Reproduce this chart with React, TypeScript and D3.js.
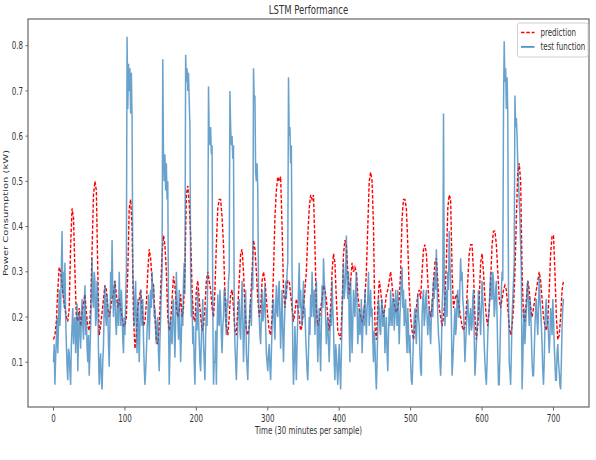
import { scaleLinear, line, range, extent } from 'd3';

// sample index (30 minutes per sample)
const testIndex = range(0, 715);
const predIndex = range(0, 715, 2);

// measured load, one value per sample, rows of 20 samples
const testFunction = [
  0.10, 0.14, 0.05, 0.11, 0.15, 0.20, 0.12, 0.18, 0.26, 0.18, 0.22, 0.31, 0.39, 0.25, 0.30, 0.22, 0.32, 0.20, 0.14, 0.09,
  0.06, 0.13, 0.12, 0.08, 0.05, 0.14, 0.18, 0.22, 0.14, 0.19, 0.20, 0.12, 0.17, 0.23, 0.08, 0.15, 0.21, 0.17, 0.13, 0.20,
  0.24, 0.18, 0.15, 0.22, 0.27, 0.16, 0.20, 0.13, 0.10, 0.16, 0.07, 0.12, 0.18, 0.25, 0.33, 0.24, 0.22, 0.30, 0.28, 0.18,
  0.20, 0.28, 0.25, 0.12, 0.05, 0.10, 0.12, 0.06, 0.04, 0.10, 0.14, 0.22, 0.27, 0.20, 0.18, 0.25, 0.22, 0.14, 0.09, 0.18,
  0.30, 0.24, 0.37, 0.26, 0.20, 0.26, 0.28, 0.19, 0.16, 0.21, 0.24, 0.18, 0.30, 0.23, 0.18, 0.26, 0.22, 0.15, 0.12, 0.20,
  0.16, 0.24, 0.30, 0.82, 0.66, 0.76, 0.70, 0.75, 0.65, 0.74, 0.64, 0.30, 0.26, 0.18, 0.22, 0.28, 0.17, 0.12, 0.24, 0.18,
  0.10, 0.18, 0.26, 0.20, 0.18, 0.24, 0.15, 0.09, 0.05, 0.08, 0.12, 0.17, 0.20, 0.25, 0.15, 0.21, 0.26, 0.22, 0.30, 0.24,
  0.27, 0.20, 0.22, 0.17, 0.14, 0.19, 0.20, 0.12, 0.08, 0.15, 0.20, 0.26, 0.30, 0.77, 0.55, 0.50, 0.56, 0.48, 0.54, 0.46,
  0.50, 0.20, 0.05, 0.12, 0.20, 0.15, 0.14, 0.22, 0.24, 0.17, 0.11, 0.19, 0.30, 0.24, 0.20, 0.15, 0.26, 0.18, 0.10, 0.16,
  0.22, 0.18, 0.28, 0.32, 0.25, 0.78, 0.72, 0.75, 0.70, 0.74, 0.68, 0.62, 0.30, 0.20, 0.24, 0.14, 0.18, 0.10, 0.05, 0.14,
  0.22, 0.17, 0.26, 0.20, 0.15, 0.10, 0.08, 0.15, 0.20, 0.24, 0.14, 0.10, 0.06, 0.16, 0.22, 0.18, 0.30, 0.71, 0.60, 0.58,
  0.62, 0.56, 0.58, 0.22, 0.05, 0.10, 0.10, 0.17, 0.05, 0.16, 0.25, 0.19, 0.18, 0.26, 0.23, 0.16, 0.12, 0.18, 0.20, 0.26,
  0.26, 0.19, 0.16, 0.24, 0.22, 0.28, 0.30, 0.70, 0.62, 0.58, 0.60, 0.55, 0.58, 0.22, 0.14, 0.10, 0.06, 0.12, 0.18, 0.22,
  0.24, 0.17, 0.15, 0.22, 0.28, 0.20, 0.10, 0.16, 0.22, 0.26, 0.12, 0.09, 0.06, 0.13, 0.18, 0.22, 0.24, 0.18, 0.30, 0.26,
  0.75, 0.68, 0.69, 0.52, 0.50, 0.54, 0.48, 0.26, 0.20, 0.16, 0.14, 0.20, 0.26, 0.19, 0.20, 0.24, 0.27, 0.18, 0.12, 0.10,
  0.08, 0.12, 0.14, 0.09, 0.06, 0.12, 0.18, 0.22, 0.24, 0.18, 0.15, 0.22, 0.27, 0.21, 0.20, 0.26, 0.28, 0.20, 0.13, 0.20,
  0.26, 0.16, 0.10, 0.17, 0.22, 0.28, 0.24, 0.30, 0.32, 0.73, 0.60, 0.62, 0.54, 0.58, 0.30, 0.12, 0.05, 0.10, 0.18, 0.12,
  0.06, 0.14, 0.20, 0.26, 0.32, 0.22, 0.26, 0.20, 0.18, 0.24, 0.28, 0.20, 0.22, 0.16, 0.12, 0.08, 0.06, 0.12, 0.20, 0.16,
  0.25, 0.20, 0.30, 0.24, 0.20, 0.26, 0.16, 0.22, 0.28, 0.18, 0.10, 0.16, 0.22, 0.14, 0.08, 0.18, 0.27, 0.22, 0.33, 0.28,
  0.26, 0.20, 0.14, 0.18, 0.20, 0.14, 0.10, 0.16, 0.22, 0.18, 0.28, 0.22, 0.18, 0.10, 0.06, 0.14, 0.12, 0.08, 0.05, 0.10,
  0.14, 0.08, 0.04, 0.12, 0.20, 0.26, 0.32, 0.24, 0.26, 0.30, 0.38, 0.28, 0.24, 0.30, 0.18, 0.10, 0.28, 0.20, 0.12, 0.18,
  0.26, 0.22, 0.20, 0.26, 0.30, 0.22, 0.14, 0.18, 0.22, 0.16, 0.18, 0.24, 0.12, 0.17, 0.22, 0.18, 0.26, 0.20, 0.16, 0.22,
  0.24, 0.30, 0.18, 0.22, 0.26, 0.20, 0.22, 0.15, 0.10, 0.17, 0.14, 0.08, 0.04, 0.10, 0.18, 0.24, 0.22, 0.17, 0.16, 0.22,
  0.24, 0.18, 0.18, 0.22, 0.12, 0.16, 0.20, 0.12, 0.08, 0.16, 0.22, 0.18, 0.26, 0.20, 0.18, 0.24, 0.24, 0.17, 0.20, 0.26,
  0.22, 0.18, 0.26, 0.20, 0.14, 0.20, 0.24, 0.28, 0.31, 0.22, 0.26, 0.18, 0.20, 0.24, 0.16, 0.12, 0.22, 0.17, 0.12, 0.16,
  0.10, 0.06, 0.05, 0.10, 0.16, 0.20, 0.22, 0.17, 0.14, 0.20, 0.25, 0.20, 0.18, 0.12, 0.08, 0.07, 0.20, 0.24, 0.26, 0.18,
  0.20, 0.24, 0.26, 0.20, 0.16, 0.20, 0.22, 0.17, 0.14, 0.20, 0.24, 0.20, 0.28, 0.24, 0.30, 0.26, 0.35, 0.28, 0.20, 0.16,
  0.14, 0.10, 0.07, 0.12, 0.22, 0.26, 0.65, 0.30, 0.18, 0.22, 0.26, 0.20, 0.30, 0.26, 0.39, 0.32, 0.28, 0.20, 0.07, 0.10,
  0.14, 0.18, 0.22, 0.16, 0.18, 0.24, 0.26, 0.20, 0.20, 0.27, 0.33, 0.28, 0.30, 0.24, 0.22, 0.16, 0.10, 0.14, 0.18, 0.22,
  0.24, 0.20, 0.16, 0.20, 0.22, 0.17, 0.18, 0.24, 0.26, 0.16, 0.07, 0.10, 0.14, 0.18, 0.20, 0.26, 0.24, 0.20, 0.16, 0.22,
  0.28, 0.24, 0.20, 0.14, 0.10, 0.07, 0.05, 0.10, 0.16, 0.20, 0.22, 0.26, 0.30, 0.24, 0.24, 0.30, 0.28, 0.20, 0.22, 0.26,
  0.28, 0.20, 0.12, 0.05, 0.05, 0.12, 0.20, 0.26, 0.30, 0.28, 0.66, 0.81, 0.72, 0.75, 0.66, 0.73, 0.65, 0.26, 0.10, 0.08,
  0.05, 0.12, 0.20, 0.24, 0.28, 0.32, 0.69, 0.62, 0.64, 0.60, 0.54, 0.50, 0.46, 0.42, 0.36, 0.30, 0.04, 0.10, 0.18, 0.22,
  0.14, 0.18, 0.22, 0.26, 0.28, 0.22, 0.18, 0.24, 0.22, 0.16, 0.10, 0.07, 0.07, 0.12, 0.18, 0.22, 0.24, 0.19, 0.16, 0.22,
  0.29, 0.24, 0.22, 0.18, 0.14, 0.08, 0.05, 0.10, 0.18, 0.22, 0.24, 0.18, 0.20, 0.16, 0.12, 0.16, 0.22, 0.20, 0.16, 0.24,
  0.20, 0.14, 0.10, 0.06, 0.06, 0.12, 0.14, 0.10, 0.08, 0.05, 0.04, 0.10, 0.18, 0.22, 0.24,
];

// model output, every second sample
const prediction = [
  0.15, 0.16, 0.19, 0.26, 0.31, 0.30, 0.27, 0.24, 0.22, 0.20,
  0.19, 0.22, 0.36, 0.44, 0.42, 0.30, 0.20, 0.19, 0.22, 0.18,
  0.21, 0.23, 0.25, 0.21, 0.18, 0.17, 0.22, 0.35, 0.47, 0.50,
  0.48, 0.30, 0.16, 0.18, 0.21, 0.24, 0.27, 0.26, 0.22, 0.20,
  0.22, 0.24, 0.25, 0.28, 0.25, 0.22, 0.24, 0.22, 0.20, 0.18,
  0.18, 0.20, 0.30, 0.44, 0.46, 0.40, 0.20, 0.13, 0.16, 0.22,
  0.24, 0.26, 0.22, 0.18, 0.19, 0.23, 0.30, 0.35, 0.33, 0.28,
  0.27, 0.20, 0.15, 0.14, 0.18, 0.26, 0.34, 0.38, 0.36, 0.30,
  0.20, 0.17, 0.19, 0.24, 0.29, 0.27, 0.22, 0.20, 0.21, 0.25,
  0.20, 0.22, 0.30, 0.47, 0.49, 0.45, 0.38, 0.26, 0.20, 0.19,
  0.26, 0.28, 0.24, 0.20, 0.17, 0.18, 0.22, 0.28, 0.30, 0.28,
  0.26, 0.22, 0.20, 0.26, 0.36, 0.44, 0.46, 0.46, 0.42, 0.36,
  0.25, 0.18, 0.16, 0.20, 0.25, 0.26, 0.22, 0.17, 0.16, 0.22,
  0.28, 0.34, 0.35, 0.30, 0.22, 0.17, 0.16, 0.18, 0.24, 0.30,
  0.37, 0.35, 0.30, 0.24, 0.20, 0.22, 0.28, 0.30, 0.28, 0.24,
  0.20, 0.17, 0.16, 0.20, 0.30, 0.42, 0.48, 0.51, 0.50, 0.51,
  0.40, 0.26, 0.22, 0.26, 0.28, 0.28, 0.25, 0.22, 0.19, 0.21,
  0.24, 0.22, 0.20, 0.17, 0.18, 0.22, 0.26, 0.30, 0.38, 0.44,
  0.47, 0.46, 0.47, 0.36, 0.22, 0.18, 0.19, 0.22, 0.24, 0.27,
  0.26, 0.24, 0.20, 0.17, 0.22, 0.30, 0.34, 0.32, 0.24, 0.17,
  0.16, 0.15, 0.22, 0.34, 0.37, 0.36, 0.30, 0.25, 0.28, 0.32,
  0.30, 0.31, 0.30, 0.25, 0.22, 0.20, 0.19, 0.20, 0.24, 0.30,
  0.40, 0.50, 0.52, 0.50, 0.40, 0.18, 0.15, 0.22, 0.28, 0.26,
  0.22, 0.20, 0.22, 0.25, 0.26, 0.28, 0.30, 0.27, 0.24, 0.22,
  0.21, 0.22, 0.24, 0.30, 0.42, 0.46, 0.46, 0.44, 0.36, 0.26,
  0.20, 0.17, 0.15, 0.18, 0.22, 0.25, 0.26, 0.24, 0.30, 0.35,
  0.36, 0.34, 0.28, 0.22, 0.20, 0.22, 0.28, 0.32, 0.33, 0.28,
  0.22, 0.20, 0.18, 0.20, 0.24, 0.32, 0.44, 0.47, 0.46, 0.30,
  0.22, 0.24, 0.25, 0.24, 0.22, 0.20, 0.18, 0.17, 0.18, 0.22,
  0.28, 0.34, 0.36, 0.36, 0.30, 0.20, 0.15, 0.18, 0.24, 0.32,
  0.34, 0.30, 0.24, 0.20, 0.18, 0.22, 0.28, 0.36, 0.39, 0.39,
  0.36, 0.30, 0.24, 0.22, 0.24, 0.26, 0.27, 0.26, 0.22, 0.18,
  0.16, 0.18, 0.22, 0.30, 0.42, 0.52, 0.54, 0.50, 0.30, 0.20,
  0.19, 0.24, 0.28, 0.26, 0.22, 0.20, 0.22, 0.24, 0.26, 0.28,
  0.30, 0.28, 0.24, 0.20, 0.18, 0.17, 0.19, 0.26, 0.34, 0.38,
  0.38, 0.30, 0.20, 0.15, 0.16, 0.20, 0.26, 0.28,
];

const xTicks = [0, 100, 200, 300, 400, 500, 600, 700];
const yTicks = [0.1, 0.2, 0.3, 0.4, 0.5, 0.6, 0.7, 0.8];
const legendItems = [
  { label: 'prediction', color: '#ff0000', dash: '3.5,1.8' },
  { label: 'test function', color: '#1f77b4', dash: undefined },
];

const W = 596;
const H = 460;
const margin = { top: 19, right: 5, bottom: 53, left: 28 };
const FONT = 'DejaVu Sans, sans-serif';
const SX = 0.71; // picture is squeezed horizontally

// matplotlib-like 5% margins
const pad = (lo: number, hi: number) => [lo - (hi - lo) * 0.05, hi + (hi - lo) * 0.05];

const Label = (props: { x: number; y: number; size: number; anchor: string; children: string; rotate?: boolean }) => {
  const { x, y, size, anchor, children, rotate } = props;
  const t = rotate ? `translate(${x},${y}) rotate(-90) scale(1,${SX})` : `translate(${x},${y}) scale(${SX},1)`;
  return (
    <text transform={t} fontSize={size} textAnchor={anchor} fill="#333" fontFamily={FONT}>
      {children}
    </text>
  );
};

export default function App() {
  const left = margin.left;
  const right = W - margin.right - 2;
  const top = margin.top;
  const bottom = H - margin.bottom;

  const xExt = extent(testIndex) as [number, number];
  const yExt = extent([...testFunction, ...prediction]) as [number, number];

  const x = scaleLinear().domain(pad(xExt[0], xExt[1])).range([left, right]);
  const y = scaleLinear().domain(pad(yExt[0], yExt[1])).range([bottom, top]);

  const path = (idx: number[], vals: number[]) =>
    line<number>()
      .x((_, i) => x(idx[i]))
      .y((d) => y(d))(vals) || '';

  const lx = 517.5;
  const ly = 23;

  return (
    <svg width={W} height={H} style={{ position: 'absolute', left: 0, top: 0, background: '#fff' }}>
      <rect x={0} y={0} width={W} height={H} fill="#fff" />
      <Label x={(left + right) / 2} y={14} size={12} anchor="middle">
        LSTM Performance
      </Label>

      <clipPath id="plot">
        <rect x={left} y={top} width={right - left} height={bottom - top} />
      </clipPath>
      <g clipPath="url(#plot)">
        <path d={path(predIndex, prediction)} fill="none" stroke="#ff0000" strokeWidth={1.4} strokeDasharray="3.5,1.8" />
        <path d={path(testIndex, testFunction)} fill="none" stroke="#2a7cb8" strokeOpacity={0.7} strokeWidth={1.5} />
      </g>

      <rect x={left} y={top} width={right - left} height={bottom - top} fill="none" stroke="#666" strokeWidth={1.2} />

      {xTicks.map((t) => (
        <g key={t}>
          <line x1={x(t)} x2={x(t)} y1={bottom} y2={bottom + 3.5} stroke="#666" />
          <Label x={x(t)} y={422} size={10} anchor="middle">
            {String(t)}
          </Label>
        </g>
      ))}
      {yTicks.map((t) => (
        <g key={t}>
          <line x1={left - 2.5} x2={left} y1={y(t)} y2={y(t)} stroke="#666" />
          <Label x={left - 5} y={y(t) + 3.6} size={10} anchor="end">
            {t.toFixed(1)}
          </Label>
        </g>
      ))}

      <Label x={(left + right) / 2} y={434} size={10} anchor="middle">
        Time (30 minutes per sample)
      </Label>
      <Label x={8} y={(top + bottom) / 2} size={10} anchor="middle" rotate>
        Power Consumption (kW)
      </Label>

      <rect x={lx} y={ly} width={70.5} height={34} rx={2} fill="#fff" fillOpacity={0.8} stroke="#d0d0d0" />
      {legendItems.map((d, i) => (
        <g key={d.label}>
          <line
            x1={lx + 3.5}
            x2={lx + 17}
            y1={ly + 9.5 + i * 14.4}
            y2={ly + 9.5 + i * 14.4}
            stroke={d.color}
            strokeWidth={1.4}
            strokeDasharray={d.dash}
          />
          <Label x={lx + 23} y={ly + 13 + i * 14.4} size={10} anchor="start">
            {d.label}
          </Label>
        </g>
      ))}
    </svg>
  );
}
